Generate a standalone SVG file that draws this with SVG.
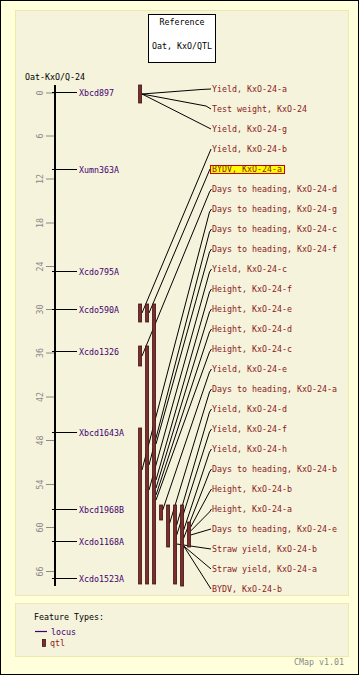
<svg xmlns="http://www.w3.org/2000/svg" width="359" height="675" viewBox="0 0 359 675">
<style>
text{font-family:"DejaVu Sans Mono","Liberation Mono",monospace;font-size:8.3px}
.blk{fill:#000}
.loc{fill:#44006E}
.qlab{fill:#8B1A1A}
.tick{stroke:#8a8a8a;stroke-width:1}
.tl{fill:#8a8a8a}
.lline{stroke:#000;stroke-width:1}
.bar{fill:#7E2C2C;stroke:#3E1414;stroke-width:0.8}
.conn{fill:none;stroke:#000;stroke-width:1}
</style>
<rect x="0.5" y="0.5" width="358" height="674" fill="#FFFFDC" stroke="#000"/>
<rect x="15.5" y="10.5" width="333" height="585" fill="#F5F3DC" stroke="#EEE8AA"/>
<rect x="15.5" y="603.5" width="333" height="53" fill="#F5F3DC" stroke="#EEE8AA"/>

<g id="title">
<rect x="148.5" y="14.5" width="67" height="48" fill="#fff" stroke="#000"/>
<text x="182" y="25" text-anchor="middle" class="blk">Reference</text>
<text x="182" y="49" text-anchor="middle" class="blk">Oat, KxO/QTL</text>
</g>

<g id="map">
<text x="25" y="80" class="blk">Oat-KxO/Q-24</text>
<rect x="54" y="85" width="2" height="501" fill="#000"/>
<g id="ticks">
<line x1="46" y1="93" x2="54" y2="93" class="tick"/>
<line x1="46" y1="136" x2="54" y2="136" class="tick"/>
<line x1="46" y1="179" x2="54" y2="179" class="tick"/>
<line x1="46" y1="223" x2="54" y2="223" class="tick"/>
<line x1="46" y1="266.5" x2="54" y2="266.5" class="tick"/>
<line x1="46" y1="309.5" x2="54" y2="309.5" class="tick"/>
<line x1="46" y1="353" x2="54" y2="353" class="tick"/>
<line x1="46" y1="397" x2="54" y2="397" class="tick"/>
<line x1="46" y1="440.5" x2="54" y2="440.5" class="tick"/>
<line x1="46" y1="484.5" x2="54" y2="484.5" class="tick"/>
<line x1="46" y1="527.5" x2="54" y2="527.5" class="tick"/>
<line x1="46" y1="571.5" x2="54" y2="571.5" class="tick"/>
<text class="tl" text-anchor="middle" transform="translate(43,93) rotate(-90)">0</text>
<text class="tl" text-anchor="middle" transform="translate(43,136) rotate(-90)">6</text>
<text class="tl" text-anchor="middle" transform="translate(43,179) rotate(-90)">12</text>
<text class="tl" text-anchor="middle" transform="translate(43,223) rotate(-90)">18</text>
<text class="tl" text-anchor="middle" transform="translate(43,266.5) rotate(-90)">24</text>
<text class="tl" text-anchor="middle" transform="translate(43,309.5) rotate(-90)">30</text>
<text class="tl" text-anchor="middle" transform="translate(43,353) rotate(-90)">36</text>
<text class="tl" text-anchor="middle" transform="translate(43,397) rotate(-90)">42</text>
<text class="tl" text-anchor="middle" transform="translate(43,440.5) rotate(-90)">48</text>
<text class="tl" text-anchor="middle" transform="translate(43,484.5) rotate(-90)">54</text>
<text class="tl" text-anchor="middle" transform="translate(43,527.5) rotate(-90)">60</text>
<text class="tl" text-anchor="middle" transform="translate(43,571.5) rotate(-90)">66</text>
</g>
</g>

<g id="locus-Xbcd897"><line x1="52" y1="92.5" x2="77" y2="92.5" class="lline"/><text x="79" y="95.5" class="loc">Xbcd897</text></g>
<g id="locus-Xumn363A"><line x1="52" y1="169.5" x2="77" y2="169.5" class="lline"/><text x="79" y="172.5" class="loc">Xumn363A</text></g>
<g id="locus-Xcdo795A"><line x1="52" y1="271.5" x2="77" y2="271.5" class="lline"/><text x="79" y="274.5" class="loc">Xcdo795A</text></g>
<g id="locus-Xcdo590A"><line x1="52" y1="309.5" x2="77" y2="309.5" class="lline"/><text x="79" y="312.5" class="loc">Xcdo590A</text></g>
<g id="locus-Xcdo1326"><line x1="52" y1="351.5" x2="77" y2="351.5" class="lline"/><text x="79" y="354.5" class="loc">Xcdo1326</text></g>
<g id="locus-Xbcd1643A"><line x1="52" y1="432.5" x2="77" y2="432.5" class="lline"/><text x="79" y="435.5" class="loc">Xbcd1643A</text></g>
<g id="locus-Xbcd1968B"><line x1="52" y1="509.5" x2="77" y2="509.5" class="lline"/><text x="79" y="512.5" class="loc">Xbcd1968B</text></g>
<g id="locus-Xcdo1168A"><line x1="52" y1="541.5" x2="77" y2="541.5" class="lline"/><text x="79" y="544.5" class="loc">Xcdo1168A</text></g>
<g id="locus-Xcdo1523A"><line x1="52" y1="578.5" x2="77" y2="578.5" class="lline"/><text x="79" y="581.5" class="loc">Xcdo1523A</text></g>

<g id="connectors">
<polyline class="conn" points="142,94 201,89.5 211,89"/>
<polyline class="conn" points="142,94 206,106 211,109"/>
<polyline class="conn" points="142,94 211,129"/>
<polyline class="conn" points="142,313 211,149"/>
<polyline class="conn" points="149,313 210,169"/>
<polyline class="conn" points="142,356 209.5,192 211.5,189"/>
<polyline class="conn" points="142,470 209.5,212 211.5,209"/>
<polyline class="conn" points="149,465 209.5,232 211.5,229"/>
<polyline class="conn" points="156,444 209.5,252 211.5,249"/>
<polyline class="conn" points="149,490 209.5,272 211.5,269"/>
<polyline class="conn" points="156,480 209.5,292 211.5,289"/>
<polyline class="conn" points="156,488 209.5,312 211.5,309"/>
<polyline class="conn" points="156,495 209.5,332 211.5,329"/>
<polyline class="conn" points="156,500 209.5,352 211.5,349"/>
<polyline class="conn" points="162.7,510 209.5,372 211.5,369"/>
<polyline class="conn" points="169.7,523 209.5,392 211.5,389"/>
<polyline class="conn" points="176.7,525 209.5,412 211.5,409"/>
<polyline class="conn" points="176.7,535 209.5,432 211.5,429"/>
<polyline class="conn" points="183.7,530 209.5,452 211.5,449"/>
<polyline class="conn" points="183.7,538 209.5,472 211.5,469"/>
<polyline class="conn" points="190.7,527 209.5,492 211.5,489"/>
<polyline class="conn" points="190.7,531 209.5,512 211.5,509"/>
<polyline class="conn" points="190.7,535 211,529"/>
<polyline class="conn" points="176.7,544 211,549"/>
<polyline class="conn" points="183.7,546 211,569"/>
<polyline class="conn" points="183.7,546 211,589"/>
</g>

<g id="qtls">
<rect class="bar" x="138.6" y="85" width="3" height="18"/>
<rect class="bar" x="138.6" y="304" width="3" height="18"/>
<rect class="bar" x="145.6" y="304" width="3" height="18"/>
<rect class="bar" x="152.6" y="304" width="3" height="280"/>
<rect class="bar" x="138.6" y="346" width="3" height="20"/>
<rect class="bar" x="145.6" y="346" width="3" height="238"/>
<rect class="bar" x="138.6" y="428" width="3" height="156"/>
<rect class="bar" x="159.6" y="505" width="3" height="15"/>
<rect class="bar" x="166.6" y="505" width="3" height="42"/>
<rect class="bar" x="173.6" y="505" width="3" height="79"/>
<rect class="bar" x="180.6" y="505" width="3" height="81"/>
<rect class="bar" x="187.6" y="522" width="3" height="25"/>
</g>

<g id="qtl-labels">
<text x="212" y="92" class="qlab">Yield, KxO-24-a</text>
<text x="212" y="112" class="qlab">Test weight, KxO-24</text>
<text x="212" y="132" class="qlab">Yield, KxO-24-g</text>
<text x="212" y="152" class="qlab">Yield, KxO-24-b</text>
<g id="highlight"><rect x="210.5" y="165.5" width="74" height="8" fill="#FFFF00" stroke="#CC0000"/><text x="212" y="172" class="qlab">BYDV, KxO-24-a</text></g>
<text x="212" y="192" class="qlab">Days to heading, KxO-24-d</text>
<text x="212" y="212" class="qlab">Days to heading, KxO-24-g</text>
<text x="212" y="232" class="qlab">Days to heading, KxO-24-c</text>
<text x="212" y="252" class="qlab">Days to heading, KxO-24-f</text>
<text x="212" y="272" class="qlab">Yield, KxO-24-c</text>
<text x="212" y="292" class="qlab">Height, KxO-24-f</text>
<text x="212" y="312" class="qlab">Height, KxO-24-e</text>
<text x="212" y="332" class="qlab">Height, KxO-24-d</text>
<text x="212" y="352" class="qlab">Height, KxO-24-c</text>
<text x="212" y="372" class="qlab">Yield, KxO-24-e</text>
<text x="212" y="392" class="qlab">Days to heading, KxO-24-a</text>
<text x="212" y="412" class="qlab">Yield, KxO-24-d</text>
<text x="212" y="432" class="qlab">Yield, KxO-24-f</text>
<text x="212" y="452" class="qlab">Yield, KxO-24-h</text>
<text x="212" y="472" class="qlab">Days to heading, KxO-24-b</text>
<text x="212" y="492" class="qlab">Height, KxO-24-b</text>
<text x="212" y="512" class="qlab">Height, KxO-24-a</text>
<text x="212" y="532" class="qlab">Days to heading, KxO-24-e</text>
<text x="212" y="552" class="qlab">Straw yield, KxO-24-b</text>
<text x="212" y="572" class="qlab">Straw yield, KxO-24-a</text>
<text x="212" y="592" class="qlab">BYDV, KxO-24-b</text>
</g>

<g id="legend">
<text x="34" y="620" class="blk">Feature Types:</text>
<line x1="35" y1="631.5" x2="47" y2="631.5" stroke="#44006E" stroke-width="1.2"/>
<text x="51" y="634.5" class="loc">locus</text>
<rect class="bar" x="42.4" y="639.4" width="3" height="7"/>
<text x="50" y="646" class="qlab">qtl</text>
</g>
<text x="294" y="665" fill="#8a8a8a">CMap v1.01</text>
</svg>
